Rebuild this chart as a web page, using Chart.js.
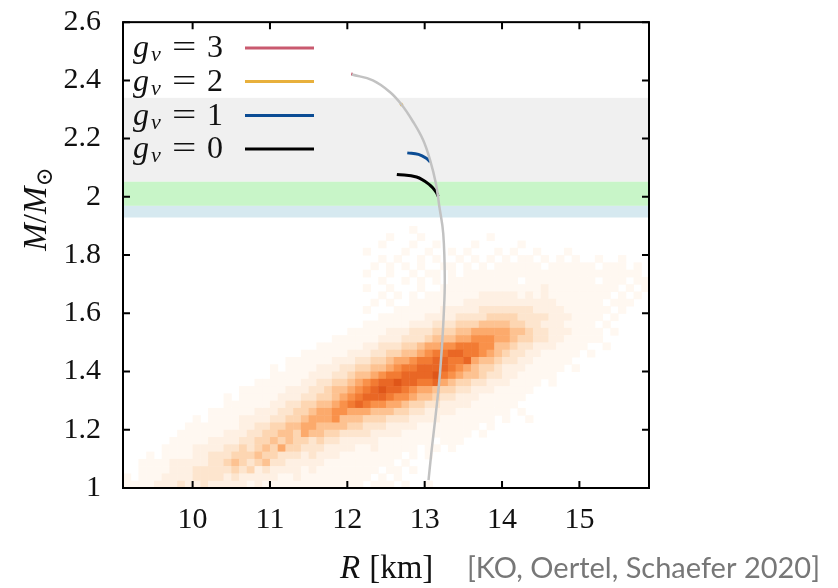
<!DOCTYPE html>
<html>
<head>
<meta charset="utf-8">
<script src="https://cdn.jsdelivr.net/npm/chart.js@4.4.0/dist/chart.umd.min.js"></script>
<style>
  html,body{margin:0;padding:0;background:#fff;}
</style>
</head>
<body>
<canvas id="c" width="838" height="588"></canvas>
<script>
// axes
const xRange = [9.1, 15.9];
const yRange = [1.0, 2.6];
const xTicks = [10, 11, 12, 13, 14, 15];
const yTicks = [1, 1.2, 1.4, 1.6, 1.8, 2, 2.2, 2.4, 2.6];
const yTickLabels = ['1', '1.2', '1.4', '1.6', '1.8', '2', '2.2', '2.4', '2.6'];

// mass-radius curves (R in km, M in solar masses)
const rGray = [12.06, 12.33, 12.55, 12.70, 12.85, 12.98, 13.07, 13.145, 13.19, 13.24, 13.26, 13.245, 13.22, 13.19, 13.14, 13.09, 13.05];
const mGray = [2.42, 2.40, 2.36, 2.317, 2.258, 2.195, 2.126, 2.046, 1.966, 1.874, 1.714, 1.588, 1.474, 1.371, 1.245, 1.13, 1.027];
const rGv0 = [12.64, 12.895, 13.07, 13.145, 13.175];
const mGv0 = [2.077, 2.068, 2.04, 2.017, 2.002];
const rGv1 = [12.775, 12.92, 13.025, 13.07];
const mGv1 = [2.151, 2.146, 2.132, 2.12];
const rGv2 = [12.69, 12.71];
const mGv2 = [2.321, 2.313];
const rGv3 = [12.05, 12.07];
const mGv3 = [2.422, 2.421];

// legend
const gvLabels = ['3', '2', '1', '0'];
const gvColors = ['#c95a6f', '#e8b03c', '#0b4c94', '#000000'];

// mass bands [low, high]
const bandGray = [2.052, 2.34];
const bandGreen = [1.969, 2.052];
const bandBlue = [1.929, 1.969];

// 2D histogram of the posterior, bins 0.1 km x 0.025 Msun, rows from M=1.9 (top) down to M=1.0
const histR0 = 9.1, histDR = 0.1, histM0 = 1.0, histDM = 0.025;
const histRows = [
  '0000000000 0000000000 0000000000 0000000100 0000000000 0000000000 00000000',
  '0000000000 0000000000 0000000000 0000100010 0000000100 0000000000 00000000',
  '0000000000 0000000000 0000000000 0001000100 1000010000 0100000000 00000000',
  '0000000000 0000000000 0000000000 0100001001 0010100010 1001000100 00000000',
  '0000000000 0000000000 0000000000 0001010010 1001010101 0110101010 01001000',
  '0000000000 0000000000 0000000000 0010101010 0110101011 1111011111 10111010',
  '0000000000 0000000000 0000000000 0100100101 1010111111 1111111111 11111110',
  '0000000000 0000000000 0000000000 0001001010 1011111111 1011111111 10111011',
  '0000000000 0000000000 0000000000 0100100010 0111111111 1111211111 11110101',
  '0000000000 0000000000 0000000000 0001010101 1111112222 2121211111 11101010',
  '0000000000 0000000000 0000000000 0010100111 1111222222 2222221111 11011100',
  '0000000000 0000000000 0000000000 0100011111 1222223333 3332222111 11101000',
  '0000000000 0000000000 0000000000 0001111112 2223333444 4333322211 11010000',
  '0000000000 0000000000 0000000000 0111111222 3334445555 4433222111 10100000',
  '0000000000 0000000000 0000000001 1111222333 4445566666 5543322211 11010000',
  '0000000000 0000000000 0000000111 1112223334 5556677766 5443322111 11000000',
  '0000000000 0000000000 0000011111 1223334456 6778887755 4332221111 00100000',
  '0000000000 0000000000 0001111112 2233445567 8899887654 3322111110 10000000',
  '0000000000 0000000000 0111111222 3344566788 9988965543 3221111100 00000000',
  '0000000000 0000000001 0111122233 4455678899 9987654432 2211111010 00000000',
  '0000000000 0000000001 1111222334 5567889999 a876554332 2111110000 00000000',
  '0000000000 0000000111 1112233445 67899a9988 9654433222 1111010000 00000000',
  '0000000000 0000011111 1222334556 789a998766 5443322211 1110000000 00000000',
  '0000000000 0001011111 2223344567 8999877655 4332221111 1100000000 00000000',
  '0000000000 0001111112 2334455678 9877665443 3222211111 1000000000 00000000',
  '0000000000 0111111222 3344566776 6655544332 2221111111 0100000000 00000000',
  '0000000001 0111122223 3445666755 5444333222 2111111101 0010000000 00000000',
  '0000000011 1111122334 4556655554 4333222211 1111110100 0000000000 00000000',
  '0000000111 1112223344 5546554433 3322221111 1111101000 0000000000 00000000',
  '0000001111 1222233445 4544343322 2221111111 0111000000 0000000000 00000000',
  '0000011112 2223343454 6443332222 1121111101 1010000000 0000000000 00000000',
  '0001011112 2333444544 3332322211 1111110101 0000000000 0000000000 00000000',
  '0011112222 2334543453 3222221111 1111101000 0000000000 0000000000 00000000',
  '0011112223 3333434232 2221211111 1110110100 0000000000 0000000000 00000000',
  '1011122223 3332322222 1121111111 1101010000 0000000000 0000000000 00000000',
  '1111222322 3222221211 1111111111 1011101001 0000000000 0000000000 00000000'
];
const histColors = ['rgba(0,0,0,0)', '#fff8f1', '#fef0e3', '#fde5ce', '#fdd6b2', '#fdc291',
  '#fcaa6c', '#f9914a', '#f27b33', '#e96725', '#df5619'];

const pts = (rs, ms) => rs.map((r, i) => ({x: r, y: ms[i]}));

const serif = '"Liberation Serif", "DejaVu Serif", serif';

const backdrop = {
  id: 'backdrop',
  beforeDatasetsDraw(chart) {
    const {ctx, chartArea: a, scales: {x, y}} = chart;
    ctx.save();
    ctx.beginPath();
    ctx.rect(a.left, a.top, a.right - a.left, a.bottom - a.top);
    ctx.clip();
    [[bandGray, '#f0f0f0'], [bandGreen, '#c8f5c8'], [bandBlue, '#d6e9f0']].forEach(([b, col]) => {
      const y1 = y.getPixelForValue(b[1]), y0 = y.getPixelForValue(b[0]);
      ctx.fillStyle = col;
      ctx.fillRect(a.left, y1, a.right - a.left, y0 - y1);
    });
    const n = histRows.length;
    histRows.forEach((s, i) => {
      const row = s.replace(/ /g, '');
      const yt = y.getPixelForValue(histM0 + (n - i) * histDM);
      const yb = y.getPixelForValue(histM0 + (n - i - 1) * histDM);
      for (let c = 0; c < row.length; c++) {
        const lv = parseInt(row[c], 16);
        if (!lv) continue;
        const x0 = x.getPixelForValue(histR0 + c * histDR);
        const x1 = x.getPixelForValue(histR0 + (c + 1) * histDR);
        ctx.fillStyle = histColors[lv];
        ctx.fillRect(x0, yt, x1 - x0 + 0.5, yb - yt + 0.5);
      }
    });
    ctx.restore();
  }
};

const frame = {
  id: 'frame',
  afterDatasetsDraw(chart) {
    const {ctx, chartArea: a, scales: {x, y}} = chart;
    ctx.save();
    ctx.strokeStyle = '#000';
    ctx.lineWidth = 2;
    ctx.strokeRect(a.left, a.top, a.right - a.left, a.bottom - a.top);
    ctx.beginPath();
    const tl = 7;
    xTicks.forEach(v => {
      const px = x.getPixelForValue(v);
      ctx.moveTo(px, a.bottom); ctx.lineTo(px, a.bottom - tl);
      ctx.moveTo(px, a.top); ctx.lineTo(px, a.top + tl);
    });
    yTicks.forEach(v => {
      const py = y.getPixelForValue(v);
      ctx.moveTo(a.left, py); ctx.lineTo(a.left + tl, py);
      ctx.moveTo(a.right, py); ctx.lineTo(a.right - tl, py);
    });
    ctx.stroke();

    // legend g_v = n
    const rowsY = [48, 81.5, 115.5, 149];
    gvLabels.forEach((lab, i) => {
      const ly = rowsY[i], base = ly + 9;
      ctx.fillStyle = '#111';
      ctx.textBaseline = 'alphabetic';
      ctx.textAlign = 'left';
      ctx.font = 'italic 32px ' + serif;
      ctx.fillText('g', 133, base);
      ctx.font = 'italic 22px ' + serif;
      ctx.fillText('v', 151, base + 4);
      ctx.font = '32px ' + serif;
      ctx.save();
      ctx.translate(172, base);
      ctx.scale(1.35, 1);
      ctx.fillText('=', 0, 0);
      ctx.restore();
      ctx.fillText(lab, 207, base);
      ctx.strokeStyle = gvColors[i];
      ctx.lineWidth = 3;
      ctx.beginPath();
      ctx.moveTo(245, ly); ctx.lineTo(314, ly);
      ctx.stroke();
    });
    ctx.restore();
  },
  afterDraw(chart) {
    const {ctx} = chart;
    ctx.save();
    ctx.fillStyle = '#111';
    ctx.textBaseline = 'alphabetic';
    ctx.textAlign = 'left';
    // x title
    let px = 340;
    ctx.font = 'italic 33px ' + serif;
    ctx.fillText('R', px, 578);
    px += ctx.measureText('R').width + 9;
    ctx.font = '33px ' + serif;
    ctx.fillText('[km]', px, 578);
    // citation
    ctx.fillStyle = '#777';
    ctx.font = '29px Lato, "Open Sans", sans-serif';
    ctx.fillText('[KO, Oertel, Schaefer 2020]', 467, 578);
    // y title
    ctx.fillStyle = '#111';
    ctx.translate(46, 209);
    ctx.rotate(-Math.PI / 2);
    const parts = [['italic 33px ', 'M', 0], ['33px ', '/', 0], ['italic 33px ', 'M', 0], ['23px ', '\u2299', 6]];
    let w = 0;
    parts.forEach(p => { ctx.font = p[0] + serif; w += ctx.measureText(p[1]).width; });
    let cx = -w / 2;
    parts.forEach(p => {
      ctx.font = p[0] + serif;
      ctx.fillText(p[1], cx, p[2]);
      cx += ctx.measureText(p[1]).width;
    });
    ctx.restore();
  }
};

const lineDs = (rs, ms, color, width) => ({
  data: pts(rs, ms), showLine: true, borderColor: color, borderWidth: width,
  pointRadius: 0, tension: 0.4, fill: false
});

new Chart(document.getElementById('c').getContext('2d'), {
  type: 'scatter',
  data: {
    datasets: [
      lineDs(rGray, mGray, '#c2c2c2', 2.5),
      lineDs(rGv0, mGv0, '#000000', 3),
      lineDs(rGv1, mGv1, '#0b4c94', 3),
      lineDs(rGv2, mGv2, '#e8b03c', 3),
      lineDs(rGv3, mGv3, '#c95a6f', 3)
    ]
  },
  options: {
    responsive: false,
    animation: false,
    layout: {padding: {left: 0, right: 189, top: 22, bottom: 0}},
    plugins: {legend: {display: false}, tooltip: {enabled: false}},
    scales: {
      x: {
        type: 'linear', min: xRange[0], max: xRange[1],
        afterBuildTicks: s => { s.ticks = xTicks.map(v => ({value: v})); },
        afterFit: s => { s.height = 100; },
        grid: {display: false, drawTicks: false},
        border: {display: false},
        ticks: {padding: 14, maxRotation: 0, color: '#111', font: {family: serif, size: 30},
          callback: v => String(v)}
      },
      y: {
        type: 'linear', min: yRange[0], max: yRange[1],
        afterBuildTicks: s => { s.ticks = yTicks.map(v => ({value: v})); },
        afterFit: s => { s.width = 123; },
        grid: {display: false, drawTicks: false},
        border: {display: false},
        ticks: {padding: 22, color: '#111', font: {family: serif, size: 30, lineHeight: 0.01},
          callback: v => yTickLabels[yTicks.findIndex(t => Math.abs(t - v) < 1e-6)]}
      }
    }
  },
  plugins: [backdrop, frame]
});
</script>
</body>
</html>
